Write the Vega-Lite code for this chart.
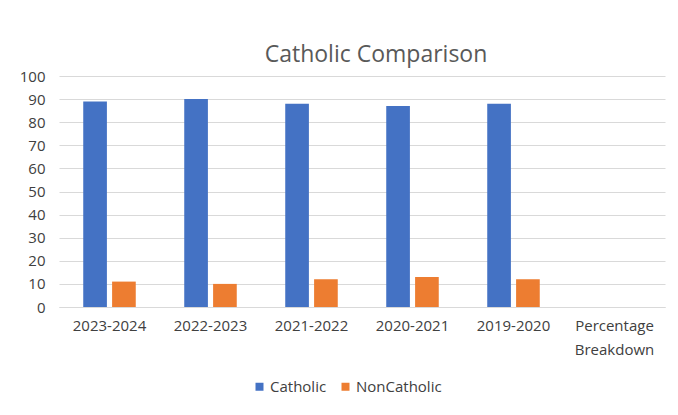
{
  "$schema": "https://vega.github.io/schema/vega-lite/v6.json",
  "autosize": "none",
  "width": 606,
  "height": 231,
  "padding": {"left": 59, "top": 76, "right": 13, "bottom": 108},
  "background": "white",
  "title": {"text": "Catholic Comparison", "fontSize": 23, "font": "Open Sans", "fontWeight": "normal", "color": "#595959", "anchor": "middle", "dx": 14, "offset": 2},
  "data": {"values": [
    {"year": "2023-2024", "group": "Catholic", "value": 89},
    {"year": "2023-2024", "group": "NonCatholic", "value": 11},
    {"year": "2022-2023", "group": "Catholic", "value": 90},
    {"year": "2022-2023", "group": "NonCatholic", "value": 10},
    {"year": "2021-2022", "group": "Catholic", "value": 88},
    {"year": "2021-2022", "group": "NonCatholic", "value": 12},
    {"year": "2020-2021", "group": "Catholic", "value": 87},
    {"year": "2020-2021", "group": "NonCatholic", "value": 13},
    {"year": "2019-2020", "group": "Catholic", "value": 88},
    {"year": "2019-2020", "group": "NonCatholic", "value": 12}
  ]},
  "mark": {"type": "bar"},
  "encoding": {
    "x": {"field": "year", "type": "nominal", "sort": null,
      "scale": {"domain": ["2023-2024", "2022-2023", "2021-2022", "2020-2021", "2019-2020", "Percentage Breakdown"], "paddingInner": 0.48, "paddingOuter": 0.24},
      "axis": {"title": null, "labelAngle": 0, "labelFont": "Open Sans", "labelFontSize": 15, "labelColor": "#404040", "ticks": false, "domainColor": "#d9d9d9", "labelPadding": 11, "labelLineHeight": 24,
        "labelExpr": "datum.label == 'Percentage Breakdown' ? ['Percentage', 'Breakdown'] : datum.label"}},
    "xOffset": {"field": "group", "type": "nominal", "scale": {"paddingInner": 0.18}},
    "y": {"field": "value", "type": "quantitative",
      "scale": {"domain": [0, 100]},
      "axis": {"title": null, "values": [0,10,20,30,40,50,60,70,80,90,100], "labelOverlap": false, "labelFlush": false, "domain": false, "ticks": false, "labelFont": "Open Sans", "labelFontSize": 15, "labelColor": "#404040", "labelPadding": 14, "gridColor": "#d9d9d9"}},
    "color": {"field": "group", "type": "nominal",
      "scale": {"domain": ["Catholic", "NonCatholic"], "range": ["#4472C4", "#ED7D31"]},
      "legend": {"title": null, "orient": "none", "direction": "horizontal", "legendX": 193, "legendY": 303, "symbolType": "square", "symbolSize": 64, "symbolStrokeWidth": 0, "labelFont": "Open Sans", "labelFontSize": 15, "labelColor": "#404040", "columnPadding": 11, "labelOffset": 3}}
  },
  "config": {"view": {"stroke": null}}
}
